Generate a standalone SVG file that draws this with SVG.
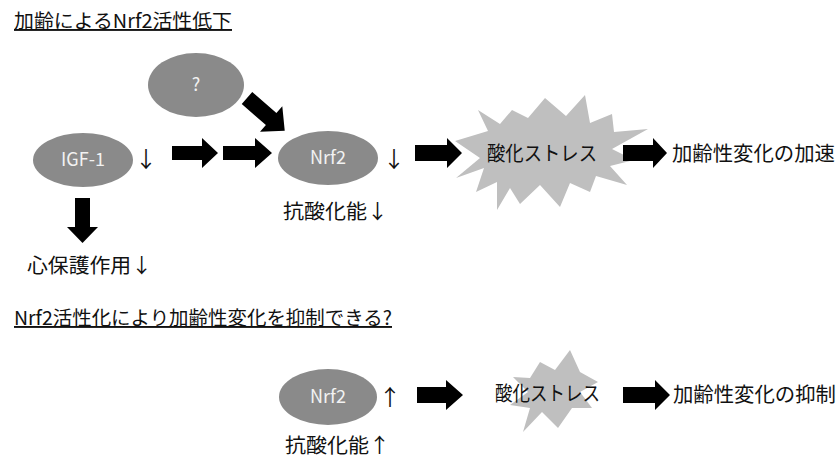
<svg xmlns="http://www.w3.org/2000/svg" width="838" height="459" viewBox="0 0 838 459">
<style>
text{font-family:"Noto Sans CJK JP","Liberation Sans",sans-serif;fill:#111}
.t{font-size:19px;text-decoration:underline}
.l{font-size:20px}
.n{fill:#8a8a8a}
.nt{font-size:18px;fill:#f2f2f2;text-anchor:middle}
.ar{font-size:22px;font-family:"Noto Sans CJK JP","DejaVu Sans",sans-serif;fill:#111}
.st{fill:#bfbfbf}
.a{fill:#000}
</style>
<rect width="838" height="459" fill="#fff"/>
<text class="t" x="14" y="28" textLength="218" lengthAdjust="spacingAndGlyphs">加齢によるNrf2活性低下</text>
<text class="t" x="14" y="325" textLength="378" lengthAdjust="spacingAndGlyphs">Nrf2活性化により加齢性変化を抑制できる?</text>

<g id="node-q"><ellipse class="n" cx="196" cy="85" rx="48" ry="32"/><text class="nt" x="196" y="91">?</text></g>
<g id="node-igf1"><ellipse class="n" cx="83" cy="160" rx="50" ry="27"/><text class="nt" x="83" y="166">IGF-1</text><text class="ar" x="135" y="167" textLength="18">↓</text></g>
<g id="node-nrf2-top"><ellipse class="n" cx="328" cy="158" rx="50" ry="27"/><text class="nt" x="328" y="164">Nrf2</text><text class="ar" x="383" y="167" textLength="18">↓</text></g>
<g id="label-antiox-top"><text class="l" x="283" y="219" textLength="105" lengthAdjust="spacingAndGlyphs">抗酸化能↓</text></g>
<g id="label-cardio"><text class="l" x="27" y="273" textLength="125" lengthAdjust="spacingAndGlyphs">心保護作用↓</text></g>
<g id="node-stress-top">
<polygon class="st" points="455,141 488,131 478,110 500,124 512,110 528,118 545,98 566,116 585,95 590,123 612,114 614,132 648,129 612,149 634,160 610,166 627,185 596,176 590,192 570,183 560,207 540,185 520,204 510,188 497,210 497,182 476,192 484,168 456,178 480,158"/>
<text class="l" x="487" y="161" textLength="110" lengthAdjust="spacingAndGlyphs">酸化ストレス</text>
</g>
<g id="label-accel"><text class="l" x="672" y="161" textLength="163" lengthAdjust="spacingAndGlyphs">加齢性変化の加速</text></g>

<g id="node-nrf2-bottom"><ellipse class="n" cx="328" cy="397" rx="49" ry="28"/><text class="nt" x="328" y="403">Nrf2</text><text class="ar" x="379" y="405" textLength="18">↑</text></g>
<g id="label-antiox-bottom"><text class="l" x="285" y="453" textLength="105" lengthAdjust="spacingAndGlyphs">抗酸化能↑</text></g>
<g id="node-stress-bottom">
<polygon class="st" points="570,350 580,372 598,382 580,392 592,408 572,408 558,428 542,412 523,432 530,408 510,405 528,392 513,377 530,378 540,362 555,370"/>
<text class="l" x="495" y="401" textLength="105" lengthAdjust="spacingAndGlyphs">酸化ストレス</text>
</g>
<g id="label-suppress"><text class="l" x="673" y="402" textLength="163" lengthAdjust="spacingAndGlyphs">加齢性変化の抑制</text></g>

<g id="connectors">
<polygon class="a" points="172,146 202,146 202,138 218,153 202,168 202,160 172,160"/>
<polygon class="a" points="223,146 255,146 255,138 272,153 255,168 255,160 223,160"/>
<polygon class="a" transform="translate(247,98) rotate(41)" points="0,-8 32,-8 32,-17 50,0 32,17 32,8 0,8"/>
<polygon class="a" points="75,198 90,198 90,227 98,227 82.5,243 67,227 75,227"/>
<polygon class="a" points="415,145 447,145 447,138 462,153 447,168 447,161 415,161"/>
<polygon class="a" points="623,145 653,145 653,138 667,153 653,168 653,161 623,161"/>
<polygon class="a" points="417,387 446,387 446,380 463,395 446,410 446,403 417,403"/>
<polygon class="a" points="623,387 655,387 655,380 670,395 655,410 655,403 623,403"/>
</g>
</svg>
